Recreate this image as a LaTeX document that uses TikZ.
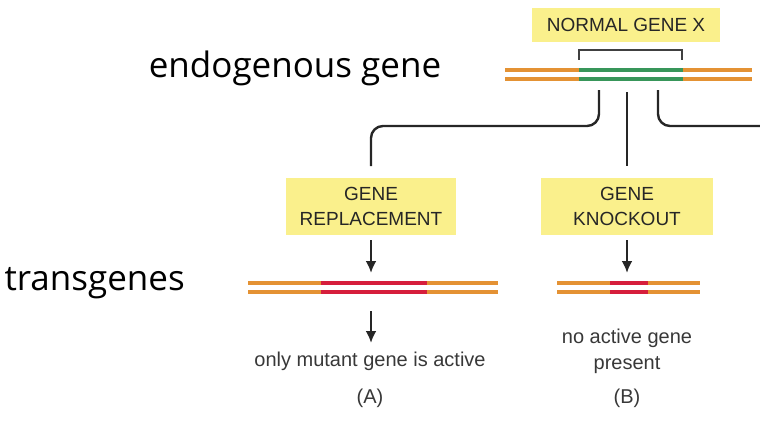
\documentclass[tikz,border=0pt]{standalone}
\usepackage{fontspec}
\setmainfont{Liberation Sans}
\newfontfamily\bigf{Open Sans}
\usetikzlibrary{arrows.meta}
\definecolor{dnaor}{RGB}{228,146,52}
\definecolor{dnagr}{RGB}{56,150,90}
\definecolor{dnard}{RGB}{214,30,60}
\definecolor{boxy}{RGB}{250,240,140}
\begin{document}
\begin{tikzpicture}[x=1pt,y=-1pt,
 lbl/.style={fill=boxy,inner sep=0pt,font=\fontsize{19}{25}\selectfont,align=center,text=black!85},
 strand/.style={line width=3.6pt,draw=dnaor},
 conn/.style={line width=2.4pt,draw=black!85,rounded corners=12pt},
 arr/.style={line width=2.4pt,draw=black!85,-{Latex[length=12pt,width=11pt]}},
 txt/.style={font=\fontsize{20}{26}\selectfont,text=black!78,align=center}]
\useasboundingbox (0,0) rectangle (760,428);
% top label
\node[lbl,minimum width=188pt,minimum height=34pt] (nx) at (626,25) {NORMAL GENE X};
\draw[line width=1.6pt,black!75] (579,60) -- (579,50) -- (682,50) -- (682,60);
\foreach \y in {70,79}{
 \draw[strand] (505,\y) -- (752,\y);
 \draw[line width=3.6pt,dnagr] (579,\y) -- (683,\y);}
\node[font=\bigf\fontsize{35}{40}\selectfont] (eg) at (295,68) {endogenous gene};
\node[font=\bigf\fontsize{35}{40}\selectfont,anchor=west] (tg) at (1,283) {transgenes};
% boxes
\node[lbl,minimum width=170pt,minimum height=57pt] (gr) at (371,206) {GENE\\REPLACEMENT};
\node[lbl,minimum width=172pt,minimum height=57pt] (gk) at (627,206) {GENE\\KNOCKOUT};
% connectors
\coordinate (l0) at (599,90); \coordinate (m0) at (627,92); \coordinate (r0) at (658,90);
\coordinate (re) at (760,126);
\draw[conn] (l0) -- (599,126) -- (371,126) -- (371,166);
\draw[conn] (m0) -- (627,166);
\draw[conn] (r0) -- (658,126) -- (re);
% arrows
\coordinate (a1) at (371,273); \coordinate (b1) at (627,273);
\draw[arr] (371,240) -- (a1);
\draw[arr] (627,240) -- (b1);
% bottom DNA
\foreach \y in {283,292}{
 \draw[strand] (248,\y) -- (498,\y);
 \draw[line width=3.6pt,dnard] (321,\y) -- (427,\y);
 \draw[strand] (557,\y) -- (700,\y);
 \draw[line width=3.6pt,dnard] (610,\y) -- (648,\y);}
\coordinate (a2) at (371,311); \coordinate (a3) at (371,343);
\draw[arr] (a2) -- (a3);
\node[txt] (ta) at (370,361) {only mutant gene is active};
\node[txt] (la) at (370,398) {(A)};
\node[txt] (tb) at (627,351) {no active gene\\present};
\node[txt] (lb) at (627,398) {(B)};
\end{tikzpicture}
\end{document}
